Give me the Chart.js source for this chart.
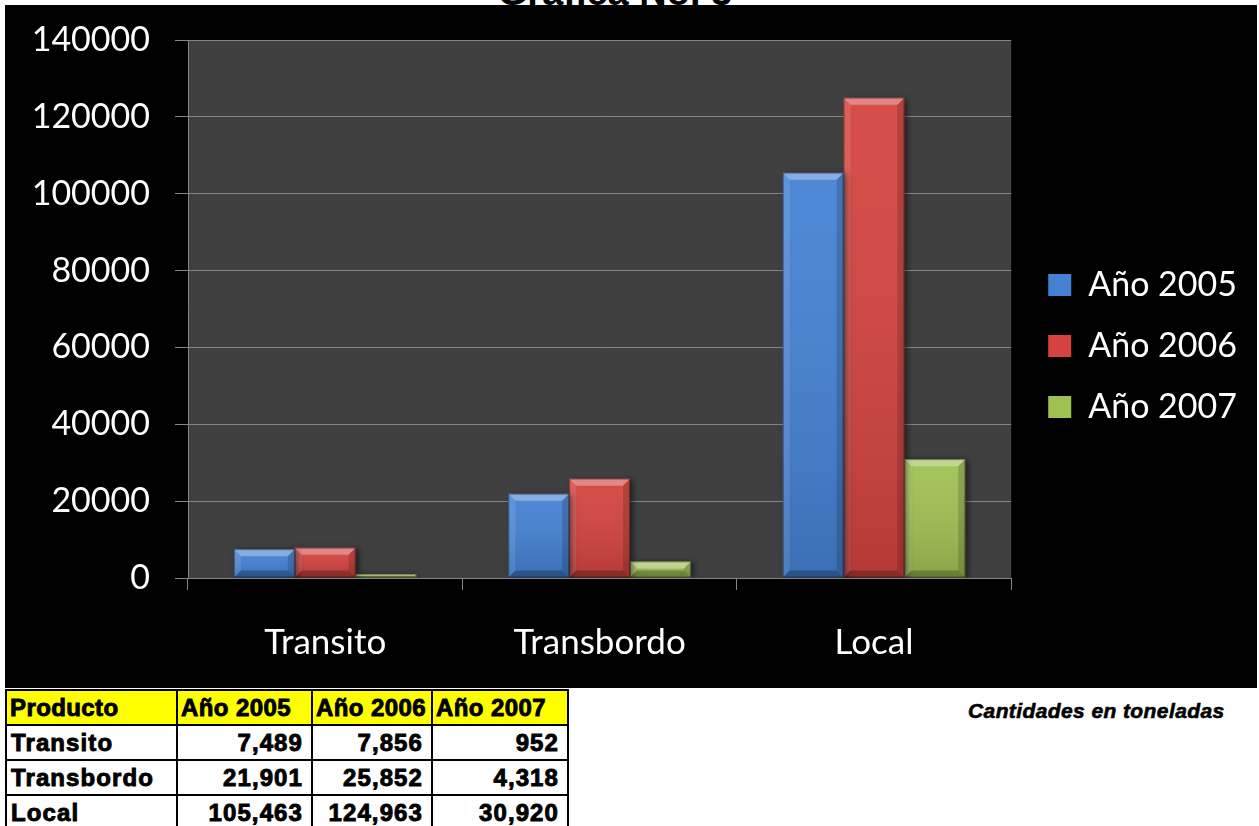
<!DOCTYPE html>
<html>
<head>
<meta charset="utf-8">
<title>Gráfica No. 3</title>
<script src="https://cdn.jsdelivr.net/npm/chart.js@4.4.1/dist/chart.umd.min.js"></script>
<style>
    html, body {
        margin: 0;
        padding: 0;
        width: 1259px;
        height: 826px;
        overflow: hidden;
        background: #ffffff;
        position: relative;
        font-family: "Liberation Sans", Arial, sans-serif;
    }
    #heading {
        position: absolute;
        left: 0;
        width: 1230px;
        top: -27px;
        height: 38px;
        line-height: 38px;
        text-align: center;
        font-weight: bold;
        font-size: 38px;
        color: #000;
    }
    #panel {
        position: absolute;
        left: 5px;
        top: 5px;
        width: 1252px;
        height: 683px;
        background: #000;
    }
    #tabla {
        position: absolute;
        left: 5px;
        top: 689px;
        width: 562px;
        table-layout: fixed;
        border-collapse: collapse;
        font-weight: bold;
        font-size: 24px;
        letter-spacing: 1.1px;
        -webkit-text-stroke: 0.9px #000;
        color: #000;
    }
    #tabla td, #tabla th {
        box-sizing: border-box;
        border: 2px solid #000;
        height: 35px;
        padding: 0 8px 0 4px;
        text-align: right;
        white-space: nowrap;
        overflow: hidden;
        line-height: 31px;
    }
    #tabla th {
        background: #ffff00;
        text-align: left;
        font-weight: bold;
        padding: 0 1px 0 3px;
        letter-spacing: 0.4px;
    }
    #tabla td:first-child { text-align: left; }
    #nota {
        position: absolute;
        left: 968px;
        top: 699px;
        font-weight: bold;
        font-style: italic;
        font-size: 21px;
        letter-spacing: 0.4px;
        -webkit-text-stroke: 0.6px #000;
        color: #000;
    }
</style>
</head>
<body>
<div id="heading">Gráfica No. 3</div>
<div id="panel"><canvas id="grafica" width="1252" height="683"></canvas></div>
<table id="tabla"></table>
<div id="nota">Cantidades en toneladas</div>

<script>
// Toneladas por producto y año
const categorias = ['Transito', 'Transbordo', 'Local'];
const etiquetasSeries = ['Año 2005', 'Año 2006', 'Año 2007'];
const valores2005 = [7489, 21901, 105463];
const valores2006 = [7856, 25852, 124963];
const valores2007 = [952, 4318, 30920];
const yMin = 0;
const yMax = 140000;
const yPaso = 20000;

const colores = {
    azul: '#4481d3',
    rojo: '#d4433f',
    verde: '#9fc153',
    fondoArea: '#404040',
    rejilla: '#858585',
    texto: '#ffffff'
};

const fuenteEjes = { family: 'Lato, "Open Sans", sans-serif', size: 34 };

// Fondo gris del area de trazado
const fondoArea = {
    id: 'fondoArea',
    beforeDraw(chart) {
        const { ctx, chartArea: a } = chart;
        ctx.save();
        ctx.fillStyle = colores.fondoArea;
        ctx.fillRect(a.left, a.top, a.right - a.left, a.bottom - a.top);
        ctx.restore();
    }
};

// Sombra suave a la derecha de las barras
const sombraBarras = {
    id: 'sombraBarras',
    beforeDatasetsDraw(chart) {
        const ctx = chart.ctx;
        ctx.save();
        ctx.shadowColor = 'rgba(0,0,0,0.55)';
        ctx.shadowBlur = 6;
        ctx.shadowOffsetX = 3;
        ctx.shadowOffsetY = 1;
    },
    afterDatasetsDraw(chart) {
        chart.ctx.restore();
    }
};

// Biselado de las barras (cara superior clara, lados y base oscuros)
const bisel = {
    id: 'bisel',
    afterDatasetsDraw(chart) {
        const ctx = chart.ctx;
        chart.data.datasets.forEach((ds, i) => {
            chart.getDatasetMeta(i).data.forEach(bar => {
                const { x, y, base, width } = bar.getProps(['x', 'y', 'base', 'width'], true);
                const l = x - width / 2, r = x + width / 2;
                const t = Math.min(y, base), b = Math.max(y, base);
                const d = Math.min(7, (b - t) / 2);

                ctx.save();
                const g = ctx.createLinearGradient(0, t, 0, b);
                g.addColorStop(0, 'rgba(255,255,255,0.06)');
                g.addColorStop(1, 'rgba(0,0,0,0.14)');
                ctx.fillStyle = g;
                ctx.fillRect(l, t, width, b - t);

                const poly = (pts, fill) => {
                    ctx.beginPath();
                    ctx.moveTo(pts[0][0], pts[0][1]);
                    pts.slice(1).forEach(p => ctx.lineTo(p[0], p[1]));
                    ctx.closePath();
                    ctx.fillStyle = fill;
                    ctx.fill();
                };
                poly([[l, t], [r, t], [r - d, t + d], [l + d, t + d]], 'rgba(255,255,255,0.32)');
                poly([[l, t], [l + d, t + d], [l + d, b - d], [l, b]], 'rgba(255,255,255,0.10)');
                poly([[r, t], [r - d, t + d], [r - d, b - d], [r, b]], 'rgba(0,0,0,0.16)');
                poly([[l, b], [l + d, b - d], [r - d, b - d], [r, b]], 'rgba(0,0,0,0.25)');

                ctx.strokeStyle = 'rgba(0,0,0,0.35)';
                ctx.lineWidth = 1;
                ctx.strokeRect(l + 0.5, t + 0.5, width - 1, b - t - 1);
                ctx.restore();
            });
        });
    }
};

// Coloca la leyenda junto al area de trazado
const ajusteLeyenda = {
    id: 'ajusteLeyenda',
    afterLayout(chart) {
        const lg = chart.legend;
        const dx = 10, dy = -18;
        lg.left += dx; lg.right += dx;
        lg.top += dy; lg.bottom += dy;
    }
};

const datasets = [valores2005, valores2006, valores2007].map((vals, i) => ({
    label: etiquetasSeries[i],
    data: vals,
    backgroundColor: [colores.azul, colores.rojo, colores.verde][i],
    borderWidth: 0,
    categoryPercentage: 0.665,
    barPercentage: 1.0
}));

new Chart(document.getElementById('grafica'), {
    type: 'bar',
    data: { labels: categorias, datasets: datasets },
    options: {
        responsive: false,
        animation: false,
        layout: { padding: { top: 35, right: 20, bottom: 0, left: 0 } },
        plugins: {
            legend: {
                position: 'right',
                labels: {
                    color: colores.texto,
                    font: { family: 'Lato, "Open Sans", sans-serif', size: 34 },
                    boxWidth: 23,
                    boxHeight: 22,
                    padding: 27
                }
            },
            tooltip: { enabled: false }
        },
        scales: {
            x: {
                grid: {
                    offset: true,
                    drawOnChartArea: false,
                    color: colores.rejilla,
                    tickLength: 12
                },
                border: { color: colores.rejilla },
                ticks: { color: colores.texto, font: { family: fuenteEjes.family, size: 35 }, padding: 32 },
                afterFit(scale) { scale.height = 110; }
            },
            y: {
                min: yMin,
                max: yMax,
                grid: { color: colores.rejilla, tickLength: 13 },
                border: { color: colores.rejilla },
                ticks: {
                    stepSize: yPaso,
                    color: colores.texto,
                    font: fuenteEjes,
                    padding: 25,
                    callback: v => String(v)
                },
                afterFit(scale) {
                    scale.width = 183;
                    scale.paddingTop = 0;
                    scale.paddingBottom = 0;
                }
            }
        }
    },
    plugins: [fondoArea, sombraBarras, bisel, ajusteLeyenda]
});

// Tabla de datos bajo la grafica
const tabla = document.getElementById('tabla');
const anchos = [171, 135, 120, 136];
let html = '<tr><th style="width:' + anchos[0] + 'px">Producto</th>';
etiquetasSeries.forEach((s, i) => {
    html += '<th style="width:' + anchos[i + 1] + 'px">' + s + '</th>';
});
html += '</tr>';
categorias.forEach((c, j) => {
    html += '<tr><td>' + c + '</td>';
    [valores2005, valores2006, valores2007].forEach(v => {
        html += '<td>' + v[j].toLocaleString('en-US') + '</td>';
    });
    html += '</tr>';
});
tabla.innerHTML = html;
</script>
</body>
</html>
